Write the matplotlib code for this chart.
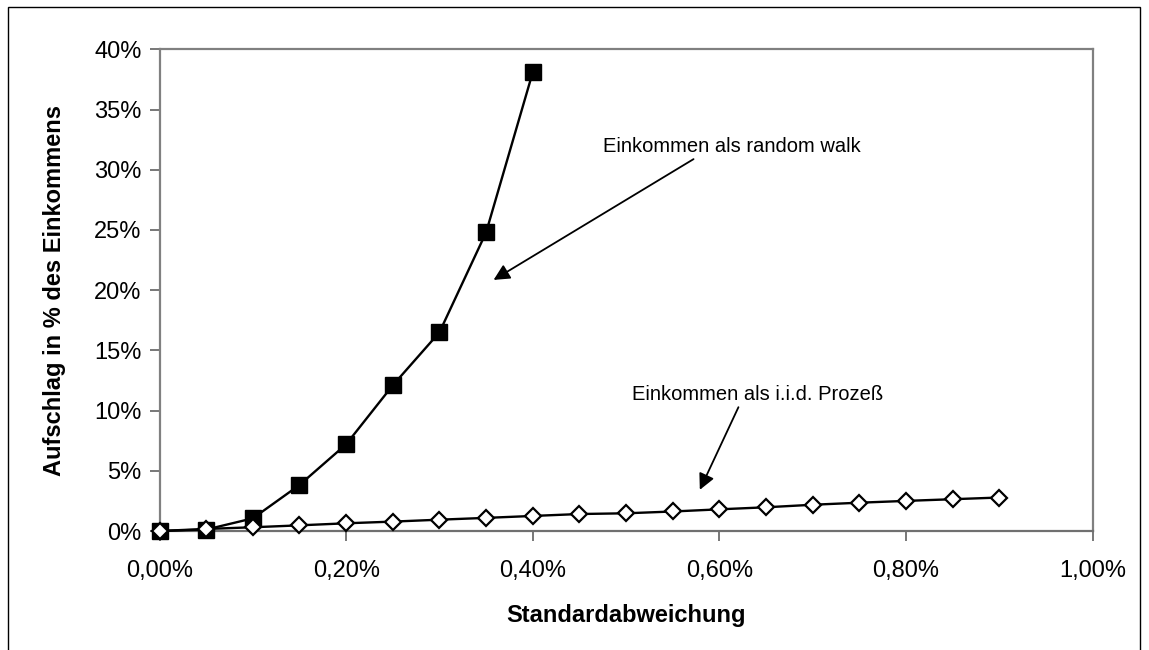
import matplotlib
matplotlib.use("Agg")
import matplotlib.pyplot as plt
from matplotlib.ticker import FuncFormatter
from matplotlib.patches import Rectangle

plt.rcParams['font.family'] = ['Liberation Sans', 'DejaVu Sans']

# Standard deviation of income shocks (in %)
sd_rw = [0.00, 0.05, 0.10, 0.15, 0.20, 0.25, 0.30, 0.35, 0.40]
sd_iid = [0.00, 0.05, 0.10, 0.15, 0.20, 0.25, 0.30, 0.35, 0.40, 0.45,
          0.50, 0.55, 0.60, 0.65, 0.70, 0.75, 0.80, 0.85, 0.90]

# Markup in % of income
markup_rw = [0.0, 0.12, 1.05, 3.82, 7.2, 12.1, 16.5, 24.8, 38.1]
markup_iid = [0.0, 0.17, 0.31, 0.47, 0.64, 0.78, 0.94, 1.09, 1.25, 1.41,
              1.47, 1.62, 1.80, 1.97, 2.18, 2.35, 2.50, 2.64, 2.78]

x_ticks = [0.0, 0.2, 0.4, 0.6, 0.8, 1.0]
y_ticks = [0, 5, 10, 15, 20, 25, 30, 35, 40]

W, H = 1149, 650
fig = plt.figure(figsize=(W / 100, H / 100), dpi=100)
ax = fig.add_axes([159.5 / W, 1 - 531 / H, (1092.7 - 159.5) / W, (531 - 49.3) / H])

ax.plot(sd_rw, markup_rw, color='black', lw=1.7, marker='s', ms=11.5,
        mfc='black', mec='black', zorder=3, clip_on=False)
ax.plot(sd_iid, markup_iid, color='black', lw=1.7, marker='D', ms=8,
        mfc='white', mec='black', mew=1.6, zorder=4, clip_on=False)

ax.set_xlim(0, 1.0)
ax.set_ylim(0, 40)
ax.set_xticks(x_ticks)
ax.set_yticks(y_ticks)
ax.xaxis.set_major_formatter(FuncFormatter(lambda v, p: f"{v:.2f}%".replace('.', ',')))
ax.yaxis.set_major_formatter(FuncFormatter(lambda v, p: f"{v:.0f}%"))

for s in ax.spines.values():
    s.set_color('#808080')
    s.set_linewidth(1.6)
ax.spines['bottom'].set_color('#707070')

ax.tick_params(axis='both', direction='out', length=7, width=1.2, color='#606060',
               labelsize=17, labelcolor='black')
ax.tick_params(axis='x', pad=14)
ax.tick_params(axis='y', pad=6)

ax.set_xlabel('Standardabweichung', fontsize=17, fontweight='bold', labelpad=16)
ax.set_ylabel('Aufschlag in % des Einkommens', fontsize=17, fontweight='bold', labelpad=20)

# Callouts
ax.annotate('Einkommen als random walk',
            xy=(0.358, 20.85), xytext=(0.475, 31.9),
            fontsize=14.5, ha='left', va='center',
            arrowprops=dict(arrowstyle='-|>', color='black', lw=1.3,
                            mutation_scale=24, shrinkA=0, shrinkB=0,
                            relpos=(0.37, 0)))
ax.annotate('Einkommen als i.i.d. Prozeß',
            xy=(0.579, 3.42), xytext=(0.506, 11.3),
            fontsize=14.5, ha='left', va='center',
            arrowprops=dict(arrowstyle='-|>', color='black', lw=1.3,
                            mutation_scale=24, shrinkA=0, shrinkB=0,
                            relpos=(0.43, 0)))

# Outer frame
fig.patches.append(Rectangle((8 / W, -0.05), (1140 - 8) / W, 1 - 7 / H + 0.05,
                             transform=fig.transFigure, fill=False,
                             edgecolor='black', lw=1.0))

fig.savefig('out.png', dpi=100)
